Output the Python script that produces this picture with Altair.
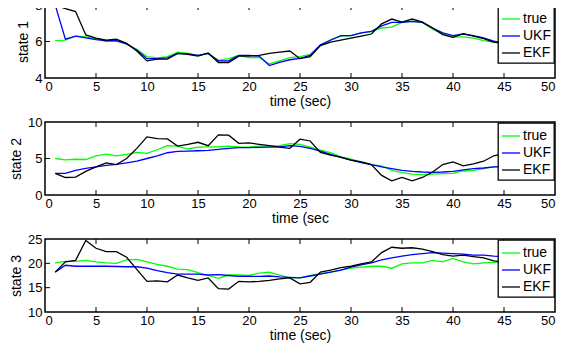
import altair as alt
import pandas as pd

t = list(range(1, 46))

s1_true = [6.05, 6.07, 6.29, 6.25, 6.14, 6.0, 6.05, 5.85, 5.57, 5.17, 5.1, 5.17, 5.42, 5.35, 5.24,
           5.33, 4.97, 5.06, 5.24, 5.12, 5.12, 4.77, 4.94, 5.12, 5.17, 5.3, 5.78, 6.1, 6.29, 6.32,
           6.47, 6.54, 6.74, 6.79, 7.05, 7.1, 7.05, 6.68, 6.41, 6.25, 6.25, 6.18, 6.05, 5.96, 5.9]
s1_ukf = [8.0, 6.13, 6.29, 6.2, 6.1, 6.05, 6.04, 5.87, 5.53, 5.06, 5.06, 5.1, 5.35, 5.32, 5.24,
          5.35, 4.94, 4.94, 5.24, 5.24, 5.2, 4.68, 4.85, 5.0, 5.08, 5.24, 5.82, 6.07, 6.32, 6.32,
          6.47, 6.56, 6.86, 7.05, 7.05, 7.1, 7.05, 6.74, 6.47, 6.32, 6.41, 6.32, 6.2, 6.02, 5.9]
s1_ekf = [8.0, 7.8, 7.64, 6.36, 6.18, 6.07, 6.13, 5.9, 5.48, 4.94, 5.03, 5.03, 5.35, 5.3, 5.2,
          5.37, 4.85, 4.85, 5.2, 5.2, 5.24, 5.35, 5.42, 5.48, 5.06, 5.17, 5.78, 5.96, 6.07, 6.18,
          6.29, 6.41, 6.97, 7.23, 7.06, 7.23, 7.06, 6.74, 6.38, 6.23, 6.43, 6.29, 6.16, 5.96, 5.9]

s2_true = [5.0, 4.8, 4.9, 4.86, 5.37, 5.6, 5.37, 5.56, 5.83, 5.7, 6.2, 6.76, 6.7, 6.3, 6.57,
           6.6, 6.6, 6.7, 6.6, 6.57, 6.7, 6.7, 6.76, 7.04, 6.94, 6.57, 6.16, 5.79, 5.23, 4.9,
           4.54, 4.17, 3.98, 3.38, 3.06, 2.87, 2.78, 2.87, 2.92, 2.96, 3.29, 3.38, 3.61, 3.84, 3.9]
s2_ukf = [2.96, 2.96, 3.38, 3.66, 3.84, 4.07, 4.2, 4.4, 4.63, 5.0, 5.37, 5.79, 5.97, 6.02, 6.06,
          6.1, 6.25, 6.39, 6.48, 6.48, 6.53, 6.57, 6.6, 6.76, 6.67, 6.39, 6.02, 5.56, 5.14, 4.77,
          4.44, 4.17, 3.84, 3.61, 3.38, 3.24, 3.15, 3.1, 3.15, 3.24, 3.43, 3.61, 3.7, 3.84, 3.9]
s2_ekf = [2.96, 2.4, 2.45, 3.24, 3.84, 4.4, 4.17, 5.0, 6.39, 7.96, 7.73, 7.69, 6.7, 6.94, 7.22,
          6.76, 8.24, 8.2, 7.08, 7.13, 6.94, 6.76, 6.57, 6.39, 7.64, 7.4, 5.83, 5.46, 5.19, 4.77,
          4.54, 4.17, 2.69, 1.94, 2.4, 1.94, 2.4, 3.15, 4.17, 4.54, 3.98, 4.26, 4.63, 5.37, 5.7]

s3_true = [20.1, 20.4, 20.4, 20.6, 20.3, 20.1, 20.0, 20.7, 20.8, 20.3, 19.8, 19.4, 18.8, 18.7, 18.1,
           17.5, 16.9, 17.6, 17.6, 17.5, 18.0, 18.2, 17.6, 17.0, 17.0, 17.5, 17.9, 18.2, 18.6, 19.0,
           19.2, 19.4, 19.4, 19.0, 19.9, 20.1, 20.1, 20.6, 20.3, 21.0, 20.3, 19.9, 20.1, 20.2, 20.3]
s3_ukf = [18.2, 19.6, 19.4, 19.4, 19.4, 19.4, 19.35, 19.3, 19.3, 19.0, 18.5, 18.1, 17.8, 17.8, 17.8,
          17.6, 17.7, 17.5, 17.3, 17.3, 17.3, 17.4, 17.2, 17.1, 17.0, 17.4, 17.8, 18.2, 18.6, 19.2,
          19.7, 20.1, 20.7, 21.1, 21.5, 21.8, 22.0, 22.2, 22.1, 22.0, 21.9, 21.7, 21.7, 21.5, 21.4]
s3_ekf = [18.2, 20.3, 20.6, 24.7, 23.1, 22.4, 22.4, 21.25, 18.75, 16.3, 16.4, 16.2, 17.6, 17.0, 16.5,
          17.0, 14.8, 14.7, 16.3, 16.2, 16.3, 16.5, 16.8, 17.0, 15.8, 16.1, 18.2, 18.6, 19.1, 19.4,
          19.9, 20.3, 22.2, 23.3, 23.1, 23.2, 22.9, 22.4, 21.8, 21.5, 21.7, 21.4, 21.1, 20.5, 20.3]

x_ticks = [0, 5, 10, 15, 20, 25, 30, 35, 40, 45, 50]
y_ticks1 = [4, 6, 8]
y_ticks2 = [0, 5, 10]
y_ticks3 = [10, 15, 20, 25]

series = ["true", "UKF", "EKF"]
colors = ["#00ff00", "#0000ff", "#000000"]

W, H = 510, 73
FONT = "Liberation Sans"


def panel(true, ukf, ekf, yticks, ytitle, xtitle):
    df = pd.DataFrame({
        "t": t * 3,
        "v": true + ukf + ekf,
        "s": ["true"] * len(t) + ["UKF"] * len(t) + ["EKF"] * len(t),
    })
    xs = alt.Scale(domain=[x_ticks[0], x_ticks[-1]], nice=False)
    ys = alt.Scale(domain=[yticks[0], yticks[-1]], nice=False, zero=False)
    xax = alt.Axis(values=x_ticks, title=xtitle, format="d", ticks=False, domain=False,
                   grid=False, labelFontSize=13, labelPadding=2, titleFontSize=14,
                   titleFontWeight="normal", titlePadding=1, labelOverlap=False)
    yax = alt.Axis(values=yticks, title=ytitle, format="d", ticks=False, domain=False,
                   grid=False, labelFontSize=13, labelPadding=3, titleFontSize=14,
                   titleFontWeight="normal", titlePadding=4, labelOverlap=False)
    x = alt.X("t:Q", scale=xs, axis=xax)
    y = alt.Y("v:Q", scale=ys, axis=yax)
    color = alt.Color("s:N", scale=alt.Scale(domain=series, range=colors),
                      legend=alt.Legend(title=None, orient="top-right", offset=1,
                                        fillColor="white", strokeColor="black", padding=3,
                                        symbolType="stroke", symbolSize=324, symbolStrokeWidth=1.3,
                                        labelFontSize=14, labelOffset=2, rowPadding=0,
                                        labelFont=FONT))
    layers = []
    for name in series:
        layers.append(
            alt.Chart(df).transform_filter(alt.datum.s == name)
            .mark_line(strokeWidth=1.3, clip=True)
            .encode(x=x, y=y, color=color)
        )
    xt = pd.DataFrame({"xt": x_ticks[1:-1]})
    yt = pd.DataFrame({"yt": yticks[1:-1]})
    tick_style = dict(color="black", strokeWidth=1)
    xb = alt.Chart(xt).mark_rule(**tick_style).encode(
        x=alt.X("xt:Q", scale=xs, axis=xax), y=alt.value(H), y2=alt.value(H - 5))
    xtp = alt.Chart(xt).mark_rule(**tick_style).encode(
        x=alt.X("xt:Q", scale=xs, axis=xax), y=alt.value(0), y2=alt.value(5))
    yl = alt.Chart(yt).mark_rule(**tick_style).encode(
        y=alt.Y("yt:Q", scale=ys, axis=yax), x=alt.value(0), x2=alt.value(5))
    yr = alt.Chart(yt).mark_rule(**tick_style).encode(
        y=alt.Y("yt:Q", scale=ys, axis=yax), x=alt.value(W), x2=alt.value(W - 5))
    return alt.layer(*layers, xb, xtp, yl, yr).properties(width=W, height=H)


p1 = panel(s1_true, s1_ukf, s1_ekf, y_ticks1, "state 1", "time (sec)")
p2 = panel(s2_true, s2_ukf, s2_ekf, y_ticks2, "state 2", "time (sec")
p3 = panel(s3_true, s3_ukf, s3_ekf, y_ticks3, "state 3", "time (sec)")

chart = (
    alt.vconcat(p1, p2, p3, spacing=44, bounds="flush")
    .resolve_legend(color="independent")
    .properties(padding={"left": 0, "top": -10, "right": 0, "bottom": 0}, background="white")
    .configure_view(stroke="black", strokeWidth=1.5)
    .configure_axis(labelFont=FONT, titleFont=FONT, labelColor="black", titleColor="black")
    .configure_legend(strokeWidth=1.3, labelColor="black")
)

chart.save("out.html", embed_options={"renderer": "svg", "actions": False})
